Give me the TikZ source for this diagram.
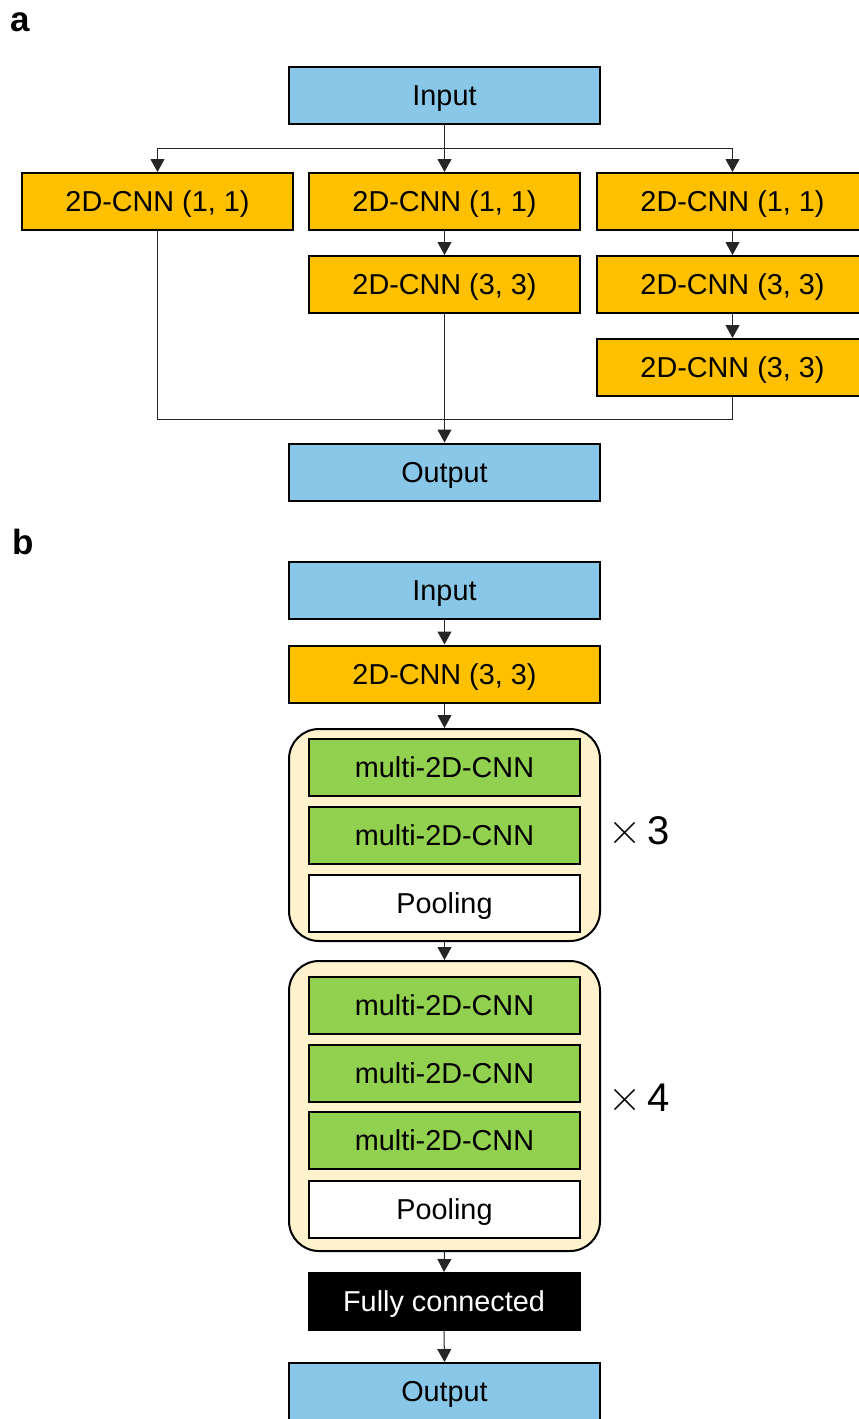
\documentclass[tikz,border=0pt]{standalone}
\usepackage{fontspec}
\setmainfont{Liberation Sans}
\newfontfamily\lmfont{Latin Modern Roman}
\usetikzlibrary{arrows.meta}
\definecolor{cblue}{RGB}{137,199,232}
\definecolor{corange}{RGB}{255,192,0}
\definecolor{cgreen}{RGB}{146,208,80}
\definecolor{ccream}{RGB}{255,242,204}
\newcommand{\timessign}{{\lmfont\fontsize{46}{46}\selectfont ×}}
\tikzset{
  box/.style={draw=black, line width=2pt, inner sep=0pt, minimum height=57pt,
    font=\fontsize{28.8}{34}\selectfont, text height=20.6pt, text depth=0pt},
  wide/.style={box, minimum width=311pt},
  narrow/.style={box, minimum width=271pt},
  bluebox/.style={wide, fill=cblue},
  cnn/.style={narrow, fill=corange},
  cnnw/.style={wide, fill=corange},
  multi/.style={narrow, fill=cgreen},
  pool/.style={narrow, fill=white},
  fc/.style={narrow, fill=black, draw=black, text=white},
  group/.style={draw=black, line width=2pt, fill=ccream, rounded corners=30pt,
    minimum width=311pt, inner sep=0pt},
  conn/.style={line width=1pt, draw=black!85},
  arr/.style={conn, -{Triangle[length=13pt, width=14pt]}},
  panel/.style={font=\fontsize{35}{40}\selectfont\bfseries, inner sep=0pt, anchor=base west},
  times/.style={font=\fontsize{40}{44}\selectfont, inner sep=0pt, anchor=base west}
}
\begin{document}
\begin{tikzpicture}[x=1pt, y=-1pt]
\useasboundingbox (0,0) rectangle (859,1419);
\fill[white] (0,0) rectangle (859,1419);
\clip (0,0) rectangle (859,1419);

% ---------- panel a ----------
\node[panel] (la) at (10,31.5) {a};
\node[bluebox] (ina) at (444.5,95.5) {Input};
\node[cnn] (l1) at (157.5,201.5) {2D-CNN (1, 1)};
\node[cnn] (m1) at (444.5,201.5) {2D-CNN (1, 1)};
\node[cnn] (r1) at (732.5,201.5) {2D-CNN (1, 1)};
\node[cnn] (m2) at (444.5,284.5) {2D-CNN (3, 3)};
\node[cnn] (r2) at (732.5,284.5) {2D-CNN (3, 3)};
\node[cnn] (r3) at (732.5,367.5) {2D-CNN (3, 3)};
\node[bluebox] (outa) at (444.5,472) {Output};

\coordinate (split) at (444.5,148);
\coordinate (merge) at (444.5,419);

\draw[arr] (ina.south) -- (m1.north);
\draw[conn] (l1.north |- split) -- (r1.north |- split);
\draw[arr] (l1.north |- split) -- (l1.north);
\draw[arr] (r1.north |- split) -- (r1.north);
\draw[arr] (m1.south) -- (m2.north);
\draw[arr] (r1.south) -- (r2.north);
\draw[arr] (r2.south) -- (r3.north);
\draw[conn] (l1.south) -- (l1.south |- merge) -- (r3.south |- merge) -- (r3.south);
\draw[arr] (m2.south) -- (outa.north);

% ---------- panel b ----------
\node[panel] (lb) at (12,554) {b};
\node[bluebox] (inb) at (444.5,590.5) {Input};
\node[cnnw] (cb) at (444.5,674) {2D-CNN (3, 3)};
\node[group, minimum height=212pt] (g1) at (444.5,835) {};
\node[multi] (g1a) at (444.5,767.5) {multi-2D-CNN};
\node[multi] (g1b) at (444.5,835.5) {multi-2D-CNN};
\node[pool] (g1c) at (444.5,903) {Pooling};
\node[times] (t3) at (608,844) {\timessign\hspace{6pt}3};

\node[group, minimum height=290pt] (g2) at (444.5,1106) {};
\node[multi] (g2a) at (444.5,1005.5) {multi-2D-CNN};
\node[multi] (g2b) at (444.5,1073.5) {multi-2D-CNN};
\node[multi] (g2c) at (444.5,1140.5) {multi-2D-CNN};
\node[pool] (g2d) at (444.5,1209) {Pooling};
\node[times] (t4) at (608,1111) {\timessign\hspace{6pt}4};

\node[fc] (fc) at (444,1301.5) {Fully connected};
\node[bluebox] (outb) at (444.5,1391.5) {Output};

\draw[arr] (inb.south) -- (cb.north);
\draw[arr] (cb.south) -- (g1.north);
\draw[arr] (g1.south) -- (g2.north);
\draw[arr] (g2.south) -- (fc.north);
\draw[arr] (fc.south) -- (outb.north);
\end{tikzpicture}
\end{document}
